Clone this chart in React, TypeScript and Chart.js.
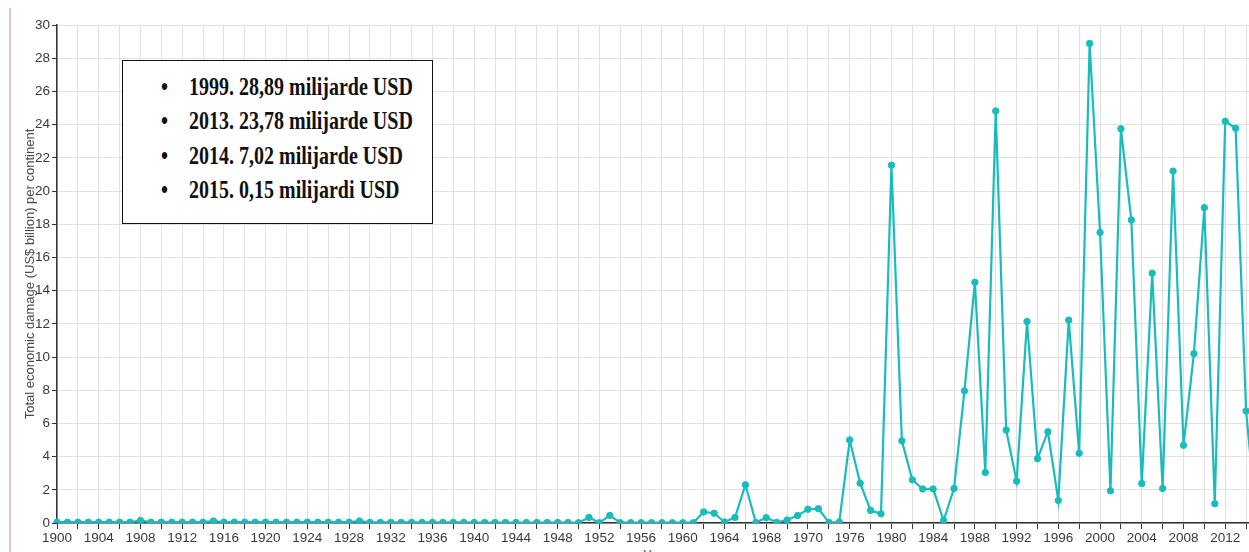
import React, { useEffect, useRef } from 'react';
import { Chart, registerables } from 'chart.js';

Chart.register(...registerables);

// ---- data ----
const startYear = 1900;
const endYear = 2015;
const years: string[] = [];
for (let y = startYear; y <= endYear; y++) years.push(String(y));

const damage1900s = [0.05, 0.05, 0.05, 0.05, 0.05, 0.05, 0.05, 0.05, 0.15, 0.05];
const damage1910s = [0.05, 0.05, 0.05, 0.05, 0.05, 0.12, 0.05, 0.05, 0.05, 0.05];
const damage1920s = [0.05, 0.05, 0.05, 0.05, 0.05, 0.05, 0.05, 0.05, 0.05, 0.12];
const damage1930s = [0.04, 0.04, 0.04, 0.04, 0.04, 0.04, 0.04, 0.04, 0.04, 0.04];
const damage1940s = [0.03, 0.03, 0.03, 0.03, 0.03, 0.03, 0.03, 0.03, 0.03, 0.03];
const damage1950s = [0.02, 0.33, 0.02, 0.46, 0.02, 0.02, 0.02, 0.02, 0.02, 0.02];
const damage1960s = [0.02, 0.02, 0.67, 0.59, 0.06, 0.33, 2.3, 0.03, 0.32, 0.04];
const damage1970s = [0.18, 0.45, 0.83, 0.86, 0.04, 0.06, 5.0, 2.4, 0.76, 0.55];
const damage1980s = [21.55, 4.95, 2.6, 2.05, 2.05, 0.15, 2.08, 7.96, 14.5, 3.04];
const damage1990s = [24.82, 5.6, 2.52, 12.14, 3.88, 5.5, 1.36, 12.22, 4.2, 28.89];
const damage2000s = [17.5, 1.94, 23.75, 18.25, 2.38, 15.05, 2.08, 21.2, 4.68, 10.2];
const damage2010s = [19.0, 1.16, 24.2, 23.78, 6.75, 0.15];

const xTickLabels = [
  '1900', '1904', '1908', '1912', '1916', '1920', '1924', '1928', '1932', '1936',
  '1940', '1944', '1948', '1952', '1956', '1960', '1964', '1968', '1970', '1976',
  '1980', '1984', '1988', '1992', '1996', '2000', '2004', '2008', '2012',
];

const yMin = 0;
const yMax = 30;
const yStep = 2;

const yTitle = 'Total economic damage (US$ billion) per continent';
const xTitle = 'Year';

const noteLines = [
  '1999. 28,89 milijarde USD',
  '2013. 23,78 milijarde USD',
  '2014. 7,02 milijarde USD',
  '2015. 0,15 milijardi USD',
];

const TEAL = '#19bcbc';
const GRID = '#e0e0e0';
const AXIS = '#333333';
const TRANSPARENT = 'rgba(0,0,0,0)';

export default function App() {
  const canvasRef = useRef<HTMLCanvasElement>(null);

  useEffect(() => {
    const canvas = canvasRef.current;
    if (!canvas) return;
    const values = [
      ...damage1900s, ...damage1910s, ...damage1920s, ...damage1930s, ...damage1940s,
      ...damage1950s, ...damage1960s, ...damage1970s, ...damage1980s, ...damage1990s,
      ...damage2000s, ...damage2010s,
    ];
    const tickFont = { family: '"Liberation Sans", Arial, sans-serif', size: 13.5 };
    const chart = new Chart(canvas, {
      type: 'line',
      data: {
        labels: years,
        datasets: [
          {
            data: values,
            borderColor: TEAL,
            backgroundColor: TEAL,
            borderWidth: 2.2,
            pointRadius: 3.2,
            pointBorderWidth: 1,
            pointBackgroundColor: TEAL,
            pointBorderColor: TEAL,
            tension: 0,
          },
        ],
      },
      options: {
        responsive: false,
        animation: false,
        devicePixelRatio: 1,
        layout: { padding: { top: 25, left: 0, right: 23.5, bottom: 0 } },
        plugins: {
          legend: { display: false },
          tooltip: { enabled: false },
        },
        scales: {
          x: {
            type: 'category',
            offset: false,
            grid: {
              color: (ctx: any) => (ctx.index % 2 === 0 ? GRID : TRANSPARENT),
              tickColor: (ctx: any) => (ctx.index % 2 === 0 ? AXIS : TRANSPARENT),
              tickLength: 6,
              lineWidth: 1,
            },
            border: { color: AXIS, width: 1.5 },
            ticks: {
              autoSkip: false,
              maxRotation: 0,
              minRotation: 0,
              padding: 1,
              color: '#3a3a3a',
              font: tickFont,
              callback: (_v: any, i: number) => (i % 4 === 0 ? xTickLabels[i / 4] ?? '' : ''),
            },
            title: {
              display: true,
              text: xTitle,
              color: '#555',
              font: tickFont,
              padding: { top: 0, bottom: 2 },
            },
            afterFit: (scale: any) => {
              scale.height = 42;
            },
          },
          y: {
            min: yMin,
            max: yMax,
            grid: {
              color: GRID,
              tickColor: AXIS,
              tickLength: 5,
              lineWidth: 1,
            },
            border: { color: AXIS, width: 1.5 },
            ticks: {
              stepSize: yStep,
              padding: 2,
              color: '#3a3a3a',
              font: tickFont,
            },
            title: {
              display: true,
              text: yTitle,
              color: '#4a4a4a',
              font: { family: '"Liberation Sans", Arial, sans-serif', size: 13 },
              padding: { top: 22.5, bottom: 0 },
            },
            afterFit: (scale: any) => {
              scale.width = 57;
            },
          },
        },
      },
    } as any);
    return () => chart.destroy();
  }, []);

  return (
    <div
      style={{
        position: 'fixed',
        left: 0,
        top: 0,
        width: 1249,
        height: 552,
        overflow: 'hidden',
        background: '#ffffff',
      }}
    >
      <canvas
        ref={canvasRef}
        width={1280}
        height={565}
        style={{ position: 'absolute', left: 0, top: 0, width: 1280, height: 565 }}
      />
      <div
        style={{
          position: 'absolute',
          left: 9,
          top: 8,
          width: 2,
          height: 560,
          background: '#e8c2c6',
        }}
      />
      <div
        style={{
          position: 'absolute',
          left: 122,
          top: 60,
          width: 311,
          height: 164,
          boxSizing: 'border-box',
          border: '1.5px solid #111',
          background: '#ffffff',
        }}
      >
        {noteLines.map((line, i) => (
          <div
            key={line}
            style={{
              position: 'absolute',
              left: 0,
              top: 13 + i * 34.3,
              width: 310,
              height: 25,
              fontFamily: '"Liberation Serif", "Times New Roman", serif',
              fontWeight: 'bold',
              fontSize: 25,
              lineHeight: '25px',
              color: '#111',
              whiteSpace: 'nowrap',
            }}
          >
            <span style={{ position: 'absolute', left: 38, top: 0, transform: 'scaleX(0.8)', transformOrigin: 'left center' }}>
              •
            </span>
            <span style={{ position: 'absolute', left: 66, top: 0, transform: 'scaleX(0.8)', transformOrigin: 'left center' }}>
              {line}
            </span>
          </div>
        ))}
      </div>
    </div>
  );
}
